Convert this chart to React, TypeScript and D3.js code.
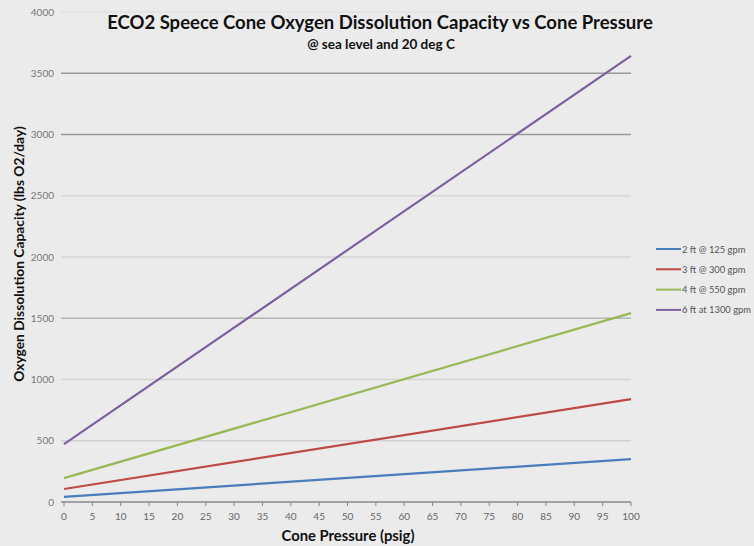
import React from "react";
import * as d3 from "d3";

const seriesNames = ["2 ft @ 125 gpm", "3 ft @ 300 gpm", "4 ft @ 550 gpm", "6 ft at 1300 gpm"];
const colors = ["#4a7ebb", "#be4b48", "#98b954", "#7d60a0"];
const pressures = [0, 100];
const series2ft = [42, 350];
const series3ft = [106, 840];
const series4ft = [195, 1542];
const series6ft = [472, 3642];
const xTicks = d3.range(0, 101, 5);
const yTicks = [0, 500, 1000, 1500, 2000, 2500, 3000, 3500, 4000];
const gridColors: Record<number, string> = {
  500: "#d2d2d2", 1000: "#d4d4d4", 1500: "#b4b4b4", 2000: "#d4d4d4",
  2500: "#d8d8d8", 3000: "#9a9a9a", 3500: "#9a9a9a", 4000: "#e2e2e2",
};

export default function App() {
  const W = 754, H = 546;
  const x = d3.scaleLinear().domain([0, 100]).range([64, 631]);
  const y = d3.scaleLinear().domain([0, 4000]).range([502, 12]);
  const all = [series2ft, series3ft, series4ft, series6ft];
  const line = d3.line<number>().x((_, i) => x(pressures[i])).y((d) => y(d));
  const font = "Lato, 'Open Sans', sans-serif";
  return (
    <svg width={W} height={H} style={{ position: "absolute", left: 0, top: 0 }} fontFamily={font}>
      <rect width={W} height={H} fill="#ebebeb" />
      {yTicks.filter((t) => t > 0).map((t) => (
        <line key={t} x1={61} x2={631} y1={y(t)} y2={y(t)} stroke={gridColors[t]} strokeWidth={1.3} />
      ))}
      {yTicks.map((t) => (
        <text key={t} x={54} y={y(t) + 3.5} textAnchor="end" fontSize={10} fill="#777">{t}</text>
      ))}
      <line x1={61} x2={631} y1={y(0)} y2={y(0)} stroke="#8a8a8a" strokeWidth={1.3} />
      {xTicks.map((t) => (
        <g key={t}>
          <line x1={x(t)} x2={x(t)} y1={y(0)} y2={y(0) + 4} stroke="#8a8a8a" />
          <text x={x(t)} y={y(0) + 18} textAnchor="middle" fontSize={10} fill="#666">{t}</text>
        </g>
      ))}
      {all.map((s, i) => (
        <path key={i} d={line(s) || ""} fill="none" stroke={colors[i]} strokeWidth={2.2} />
      ))}
      {seriesNames.map((n, i) => (
        <g key={n} transform={`translate(0, ${249 + i * 20.3})`}>
          <line x1={656} x2={681} y1={0} y2={0} stroke={colors[i]} strokeWidth={2} />
          <text x={682} y={3.5} fontSize={9.4} fill="#555">{n}</text>
        </g>
      ))}
      <text x={380} y={29} textAnchor="middle" fontSize={18.5} fontWeight="bold" fill="#111">
        ECO2 Speece Cone Oxygen Dissolution Capacity vs Cone Pressure
      </text>
      <text x={381} y={49} textAnchor="middle" fontSize={13.5} fontWeight="bold" fill="#111">
        @ sea level and 20 deg C
      </text>
      <text x={348} y={541} textAnchor="middle" fontSize={14.8} fontWeight="bold" fill="#111">
        Cone Pressure (psig)
      </text>
      <text transform="translate(24, 254) rotate(-90)" textAnchor="middle" fontSize={13.8} fontWeight="bold" fill="#111">
        Oxygen Dissolution Capacity (lbs O2/day)
      </text>
    </svg>
  );
}
